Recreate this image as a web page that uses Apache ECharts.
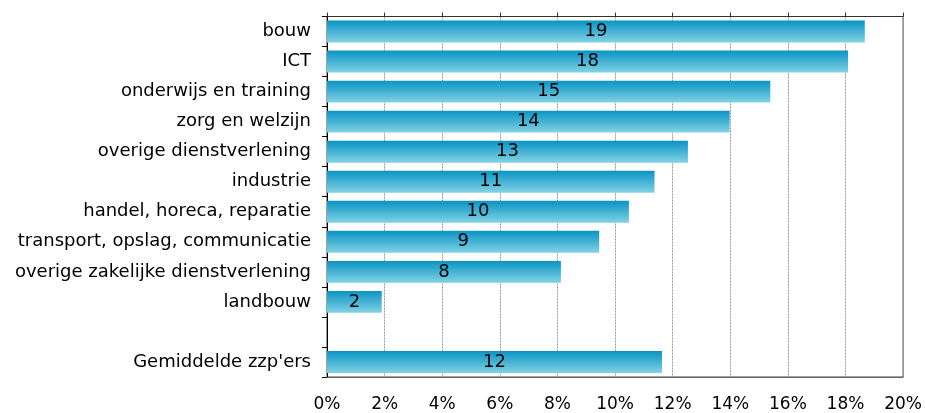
<!DOCTYPE html>
<html>
<head>
<meta charset="utf-8">
<script src="https://cdn.jsdelivr.net/npm/echarts@6/dist/echarts.min.js"></script>
<style>html,body{margin:0;padding:0;background:#fff}#c{width:925px;height:413px}</style>
</head>
<body>
<div id="c"></div>
<script>
const categories = ["bouw", "ICT", "onderwijs en training", "zorg en welzijn", "overige dienstverlening", "industrie", "handel, horeca, reparatie", "transport, opslag, communicatie", "overige zakelijke dienstverlening", "landbouw", "", "Gemiddelde zzp'ers"];
const values = [18.67, 18.09, 15.39, 13.98, 12.53, 11.37, 10.48, 9.45, 8.12, 1.90, null, 11.63];
const xTicks = [0, 2, 4, 6, 8, 10, 12, 14, 16, 18, 20];

const font = "'DejaVu Sans', Verdana, sans-serif";
const chart = echarts.init(document.getElementById('c'), null, {renderer: 'canvas'});
chart.setOption({
  animation: false,
  grid: {left: 327, right: 20, top: 16.5, bottom: 36, show: true, borderColor: '#444', borderWidth: 1, backgroundColor: 'transparent'},
  xAxis: [{
    type: 'value', min: xTicks[0], max: xTicks[xTicks.length - 1], interval: 2, position: 'bottom',
    axisLine: {show: true, lineStyle: {color: '#666', width: 1}},
    axisTick: {show: false},
    axisLabel: {formatter: v => v + '%', fontFamily: font, fontSize: 17, color: '#000', margin: 19},
    splitLine: {show: true, lineStyle: {color: '#999', type: [2, 1], width: 1}}
  }, {
    type: 'value', min: xTicks[0], max: xTicks[xTicks.length - 1], interval: 2, position: 'top',
    axisLine: {show: true, lineStyle: {color: '#333', width: 1}},
    axisTick: {show: true, length: 4, lineStyle: {color: '#333'}},
    axisLabel: {show: false},
    splitLine: {show: false}
  }],
  yAxis: {
    type: 'category', data: categories, inverse: true,
    axisLine: {show: true, lineStyle: {color: '#000', width: 1}},
    axisTick: {show: true, length: 5, lineStyle: {color: '#000'}},
    axisLabel: {fontFamily: font, fontSize: 18, color: '#000', margin: 16}
  },
  series: [{
    type: 'bar', data: values, xAxisIndex: 0, barCategoryGap: '27%',
    itemStyle: {color: new echarts.graphic.LinearGradient(0, 0, 0, 1, [
      {offset: 0, color: '#0895c3'}, {offset: 0.5, color: '#46b2d5'}, {offset: 1, color: '#82d3e3'}
    ])},
    label: {show: true, position: 'inside', formatter: p => Math.round(p.value), fontFamily: font, fontSize: 18, color: '#000'}
  }]
});
</script>
</body>
</html>
